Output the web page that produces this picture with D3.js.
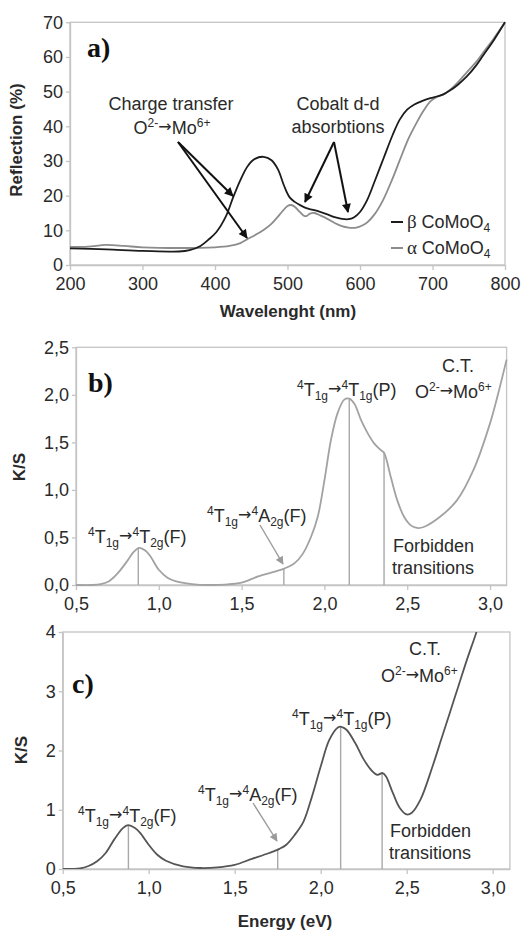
<!DOCTYPE html>
<html><head><meta charset="utf-8">
<script src="https://cdn.jsdelivr.net/npm/d3@7"></script>
<style>body{margin:0;background:#fff}svg{display:block}</style>
</head><body>
<svg id="chart" width="523" height="931"></svg>
<script>
// ---------- DATA ----------
// Panel a: reflection spectra
const betaWl   = [200,250,300,350,365,380,392,402,415,425,435,445,455,467,478,487,495,503,510,518,526,535,545,555,565,575,584,592,600,610,620,632,645,655,665,675,687,697,706,715,724,735,747,760,770,785,800];
const betaRef  = [4.8,4.5,4.1,3.9,4.3,5.5,7.5,9.5,14,19.5,24.5,28.5,30.6,31.2,30.2,27.5,23,19.5,18.2,17.2,16.4,15.9,15.3,14.6,13.8,13.3,13.2,13.8,15.3,18.8,24,30.5,37.5,42,44.8,46.3,47.4,48.1,48.6,49.2,50.3,52,54.3,57.5,60.5,65,70];
const alphaWl  = [200,225,250,275,300,350,400,420,435,445,455,467,477,485,493,500,505,510,517,522,526,531,537,545,555,565,575,584,595,603,610,620,632,645,655,667,678,688,697,706,715,724,735,747,760,770,785,800];
const alphaRef = [5.2,5.3,5.8,5.5,5.1,4.9,5.1,5.5,6.3,7.5,8.6,10.1,11.7,13.5,15.5,17.0,17.3,16.8,15.3,14.3,14.1,14.8,15.0,14.3,13.3,12.1,11.2,10.8,10.8,11.4,12.3,14.6,18.8,25,30.3,36.5,41,44.6,47.2,48.5,49.2,50.5,52.7,55.5,58.5,61.3,65.5,70];
const seriesGreek = ["β","α"];
const seriesName  = "CoMoO";
const wlTicks  = [200,300,400,500,600,700,800];
const refTicks = [0,10,20,30,40,50,60,70];

// Panel b: K/S (alpha)
const bE  = [0.5,0.6,0.65,0.7,0.75,0.8,0.85,0.88,0.92,0.95,1.0,1.05,1.1,1.2,1.3,1.4,1.5,1.6,1.7,1.76,1.82,1.87,1.92,1.96,2.0,2.04,2.08,2.12,2.15,2.18,2.22,2.26,2.3,2.34,2.36,2.4,2.44,2.48,2.52,2.56,2.6,2.7,2.8,2.9,3.0,3.05,3.1];
const bKS = [0,0,0.01,0.04,0.12,0.23,0.35,0.39,0.36,0.30,0.16,0.08,0.04,0.01,0,0.005,0.025,0.09,0.14,0.175,0.23,0.33,0.51,0.72,1.10,1.53,1.81,1.95,1.96,1.91,1.74,1.60,1.49,1.42,1.39,1.14,0.89,0.72,0.63,0.60,0.61,0.72,0.89,1.21,1.70,2.02,2.37];
const bLineE   = [0.876,1.755,2.15,2.36];
const bLineTop = [0.39,0.175,1.96,1.39];
const bYTicks  = [0,0.5,1.0,1.5,2.0,2.5];

// Panel c: K/S (beta)
const cE  = [0.5,0.6,0.65,0.7,0.75,0.8,0.85,0.88,0.92,0.95,1.0,1.05,1.1,1.2,1.3,1.4,1.5,1.6,1.7,1.76,1.8,1.85,1.9,1.95,2.0,2.05,2.1,2.12,2.15,2.2,2.25,2.3,2.33,2.36,2.38,2.42,2.46,2.5,2.53,2.58,2.65,2.7,2.75,2.8,2.85,2.9,2.95];
const cKS = [0,0.01,0.05,0.13,0.27,0.50,0.69,0.74,0.69,0.61,0.41,0.24,0.14,0.045,0.017,0.028,0.07,0.17,0.27,0.34,0.41,0.58,0.80,1.23,1.73,2.18,2.39,2.40,2.35,2.13,1.85,1.65,1.59,1.62,1.56,1.28,1.03,0.92,0.95,1.17,1.73,2.18,2.63,3.08,3.53,3.95,4.4];
const cLineE   = [0.882,1.75,2.116,2.357];
const cLineTop = [0.74,0.34,2.40,1.61];
const cYTicks  = [0,1,2,3,4];

const eTicks = [0.5,1.0,1.5,2.0,2.5,3.0];

// ---------- DRAW ----------
const svg = d3.select("#chart");
const FONT = "Liberation Sans, Arial, sans-serif";
const AXC = "#c4c4c4", TXT = "#2a2a2a";
const comma = v => d3.format(".1f")(v).replace(".", ",");

const defs = svg.append("defs");
function marker(id, color, w, h) {
  defs.append("marker").attr("id", id).attr("viewBox", "0 0 10 10")
    .attr("refX", 9).attr("refY", 5).attr("markerWidth", w).attr("markerHeight", h)
    .attr("markerUnits", "userSpaceOnUse").attr("orient", "auto")
    .append("path").attr("d", "M0,0 L10,5 L0,10 z").attr("fill", color);
}
marker("arrK", "#111", 11, 9);
marker("arrG", "#9a9a9a", 10, 8);

function rich(g, x, y, parts, anchor, size, fill) {
  const t = g.append("text").attr("x", x).attr("y", y)
    .attr("text-anchor", anchor || "start").attr("font-family", FONT)
    .attr("font-size", size || 18).attr("fill", fill || TXT);
  let cur = 0;
  parts.forEach(p => {
    const k = p[1] || "n";
    const off = k === "sup" ? -7 : k === "sub" ? 4 : k === "arr" ? -2 : 0;
    const s = t.append("tspan").attr("dy", off - cur).text(p[0]);
    if (k === "sup" || k === "sub") s.attr("font-size", 12);
    if (k === "arr") s.attr("font-size", 16).attr("font-family", "DejaVu Sans, sans-serif");
    cur = off;
  });
  return t;
}

function frame(x, y) {
  const [x0, x1] = x.range(), [y0, y1] = y.range();
  svg.append("rect").attr("x", x0).attr("y", y1).attr("width", x1 - x0).attr("height", y0 - y1)
    .attr("fill", "none").attr("stroke", AXC).attr("stroke-width", 1.3);
}

function axes(x, y, xt, yt, xfmt, yfmt) {
  const gx = svg.append("g").attr("transform", `translate(0,${y.range()[0]})`)
    .call(d3.axisBottom(x).tickValues(xt).tickSize(5).tickSizeOuter(0).tickFormat(xfmt));
  const gy = svg.append("g").attr("transform", `translate(${x.range()[0]},0)`)
    .call(d3.axisLeft(y).tickValues(yt).tickSize(4).tickSizeOuter(0).tickFormat(yfmt));
  [gx, gy].forEach(g => {
    g.select(".domain").attr("stroke", AXC).attr("stroke-width", 1.3);
    g.selectAll(".tick line").attr("stroke", AXC).attr("stroke-width", 1.3);
    g.selectAll("text").attr("font-family", FONT).attr("font-size", 18).attr("fill", TXT);
  });
  gx.selectAll("text").attr("dy", "0.71em").attr("y", 12);
  gy.selectAll("text").attr("x", -7);
}

// ----- Panel a -----
const xa = d3.scaleLinear().domain([200, 800]).range([70, 505]);
const ya = d3.scaleLinear().domain([0, 70]).range([265, 22.3]);
frame(xa, ya);
axes(xa, ya, wlTicks, refTicks, d3.format("d"), d3.format("d"));
const lineA = d3.line().x(d => xa(d[0])).y(d => ya(d[1])).curve(d3.curveCatmullRom);
svg.append("path").attr("d", lineA(d3.zip(alphaWl, alphaRef))).attr("fill", "none")
  .attr("stroke", "#8c8c8c").attr("stroke-width", 1.8);
svg.append("path").attr("d", lineA(d3.zip(betaWl, betaRef))).attr("fill", "none")
  .attr("stroke", "#1c1c1c").attr("stroke-width", 1.8);

svg.append("text").attr("x", 22).attr("y", 140).attr("transform", "rotate(-90,22,140)")
  .attr("text-anchor", "middle").attr("font-family", FONT).attr("font-weight", "bold")
  .attr("font-size", 17).attr("fill", TXT).text("Reflection (%)");
svg.append("text").attr("x", 288).attr("y", 317).attr("text-anchor", "middle")
  .attr("font-family", FONT).attr("font-weight", "bold").attr("font-size", 17)
  .attr("fill", TXT).text("Wavelenght (nm)");
svg.append("text").attr("x", 87).attr("y", 57).attr("font-family", "Liberation Serif, serif")
  .attr("font-weight", "bold").attr("font-size", 28).attr("fill", "#111").text("a)");

rich(svg, 171, 110, [["Charge transfer"]], "middle");
rich(svg, 172, 134, [["O"], ["2-", "sup"], ["→", "arr"], ["Mo"], ["6+", "sup"]], "middle");
rich(svg, 338, 110, [["Cobalt d-d"]], "middle");
rich(svg, 338, 133, [["absorbtions"]], "middle");
const arrowsA = [[178,142,233,196],[178,142,247,238],[334,142,305,202],[334,142,348,212]];
arrowsA.forEach(a => svg.append("line").attr("x1", a[0]).attr("y1", a[1]).attr("x2", a[2]).attr("y2", a[3])
  .attr("stroke", "#111").attr("stroke-width", 2).attr("marker-end", "url(#arrK)"));

// legend
const legColors = ["#1c1c1c", "#8c8c8c"];
seriesGreek.forEach((gk, i) => {
  const yy = 228 + i * 26;
  svg.append("line").attr("x1", 391).attr("x2", 403).attr("y1", yy - 6).attr("y2", yy - 6)
    .attr("stroke", legColors[i]).attr("stroke-width", 2);
  const t = svg.append("text").attr("x", 407).attr("y", yy).attr("font-family", FONT)
    .attr("font-size", 18).attr("fill", TXT);
  t.append("tspan").attr("font-family", "Liberation Serif, serif").attr("font-size", 19).text(gk + " ");
  t.append("tspan").text(seriesName);
  t.append("tspan").attr("dy", 4).attr("font-size", 12).text("4");
});

// ----- Panel b -----
const xb = d3.scaleLinear().domain([0.5, 3.1]).range([76, 506.6]);
const yb = d3.scaleLinear().domain([0, 2.5]).range([585, 347.3]);
frame(xb, yb);
axes(xb, yb, eTicks, bYTicks, comma, comma);
const lineB = d3.line().x(d => xb(d[0])).y(d => yb(d[1])).curve(d3.curveCatmullRom);
svg.append("g").selectAll("line").data(d3.zip(bLineE, bLineTop)).join("line")
  .attr("x1", d => xb(d[0])).attr("x2", d => xb(d[0])).attr("y1", yb(0)).attr("y2", d => yb(d[1]))
  .attr("stroke", "#a8a8a8").attr("stroke-width", 1.4);
svg.append("path").attr("d", lineB(d3.zip(bE, bKS))).attr("fill", "none")
  .attr("stroke", "#a2a2a2").attr("stroke-width", 1.8);
svg.append("text").attr("x", 25).attr("y", 467).attr("transform", "rotate(-90,25,467)")
  .attr("text-anchor", "middle").attr("font-family", FONT).attr("font-weight", "bold")
  .attr("font-size", 17).attr("fill", TXT).text("K/S");
svg.append("text").attr("x", 88).attr("y", 392).attr("font-family", "Liberation Serif, serif")
  .attr("font-weight", "bold").attr("font-size", 28).attr("fill", "#111").text("b)");

const t2g = [["4", "sup"], ["T"], ["1g", "sub"], ["→", "arr"], ["4", "sup"], ["T"], ["2g", "sub"], ["(F)"]];
const a2g = [["4", "sup"], ["T"], ["1g", "sub"], ["→", "arr"], ["4", "sup"], ["A"], ["2g", "sub"], ["(F)"]];
const t1p = [["4", "sup"], ["T"], ["1g", "sub"], ["→", "arr"], ["4", "sup"], ["T"], ["1g", "sub"], ["(P)"]];
const ct  = [["O"], ["2-", "sup"], ["→", "arr"], ["Mo"], ["6+", "sup"]];

rich(svg, 88, 543, t2g);
rich(svg, 207, 522, a2g);
rich(svg, 297, 396, t1p);
rich(svg, 458, 372, [["C.T."]], "middle");
rich(svg, 415, 398, ct);
rich(svg, 393, 552, [["Forbidden"]]);
rich(svg, 392, 574, [["transitions"]]);
svg.append("line").attr("x1", 260).attr("y1", 525).attr("x2", 283).attr("y2", 564)
  .attr("stroke", "#9a9a9a").attr("stroke-width", 1.4).attr("marker-end", "url(#arrG)");

// ----- Panel c -----
const xc = d3.scaleLinear().domain([0.5, 3.1]).range([62.7, 509.9]);
const yc = d3.scaleLinear().domain([0, 4]).range([869, 632]);
frame(xc, yc);
axes(xc, yc, eTicks, cYTicks, comma, d3.format("d"));
defs.append("clipPath").attr("id", "clipC").append("rect")
  .attr("x", 62.7).attr("y", 632).attr("width", 447.2).attr("height", 237);
const lineC = d3.line().x(d => xc(d[0])).y(d => yc(d[1])).curve(d3.curveCatmullRom);
svg.append("g").selectAll("line").data(d3.zip(cLineE, cLineTop)).join("line")
  .attr("x1", d => xc(d[0])).attr("x2", d => xc(d[0])).attr("y1", yc(0)).attr("y2", d => yc(d[1]))
  .attr("stroke", "#a8a8a8").attr("stroke-width", 1.4);
svg.append("path").attr("d", lineC(d3.zip(cE, cKS))).attr("fill", "none")
  .attr("clip-path", "url(#clipC)").attr("stroke", "#555").attr("stroke-width", 1.8);
svg.append("text").attr("x", 27).attr("y", 750).attr("transform", "rotate(-90,27,750)")
  .attr("text-anchor", "middle").attr("font-family", FONT).attr("font-weight", "bold")
  .attr("font-size", 17).attr("fill", TXT).text("K/S");
svg.append("text").attr("x", 285).attr("y", 927).attr("text-anchor", "middle")
  .attr("font-family", FONT).attr("font-weight", "bold").attr("font-size", 17)
  .attr("fill", TXT).text("Energy (eV)");
svg.append("text").attr("x", 72).attr("y", 693).attr("font-family", "Liberation Serif, serif")
  .attr("font-weight", "bold").attr("font-size", 28).attr("fill", "#111").text("c)");

rich(svg, 78, 822, t2g);
rich(svg, 198, 801, a2g);
rich(svg, 292, 725, t1p);
rich(svg, 425, 655, [["C.T."]], "middle");
rich(svg, 381, 682, ct);
rich(svg, 390, 837, [["Forbidden"]]);
rich(svg, 389, 859, [["transitions"]]);
svg.append("line").attr("x1", 253).attr("y1", 803).attr("x2", 277).attr("y2", 841)
  .attr("stroke", "#9a9a9a").attr("stroke-width", 1.4).attr("marker-end", "url(#arrG)");
</script>
</body></html>
